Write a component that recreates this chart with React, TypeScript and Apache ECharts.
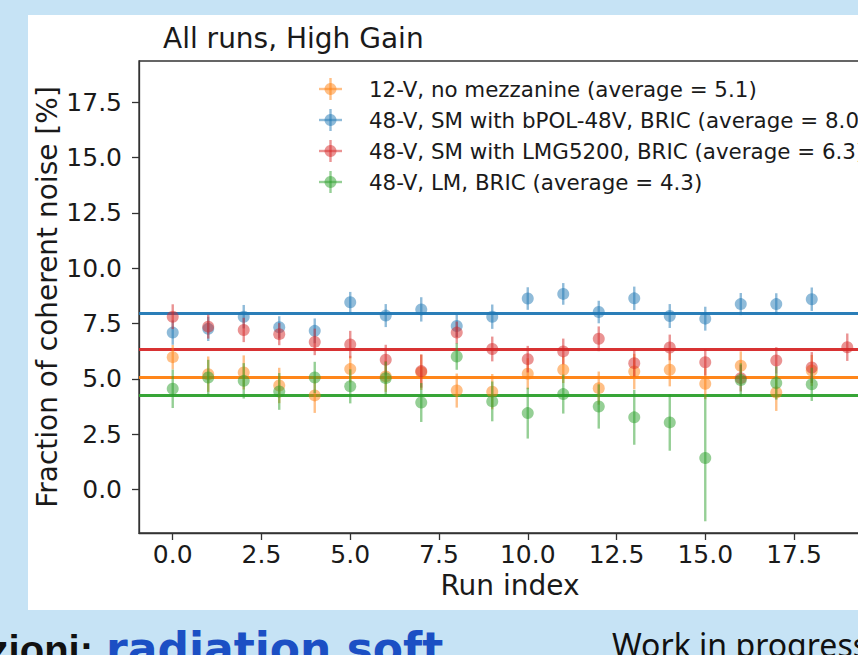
import React, { useEffect, useRef } from "react";
import * as echarts from "echarts";

// ---- data ----
const runIndex = [0, 1, 2, 3, 4, 5, 6, 7, 8, 9, 10, 11, 12, 13, 14, 15, 16, 17, 18];
const runIndexRed = [0, 1, 2, 3, 4, 5, 6, 7, 8, 9, 10, 11, 12, 13, 14, 15, 16, 17, 18, 19];

const orangeValues = [5.98, 5.21, 5.29, 4.70, 4.25, 5.44, 5.11, 5.30, 4.47, 4.42, 5.23, 5.41, 4.58, 5.33, 5.41, 4.78, 5.59, 4.38, 5.38];
const orangeErrors = [0.55, 0.8, 0.77, 0.8, 0.79, 0.6, 0.7, 0.8, 0.77, 0.8, 0.7, 0.6, 0.75, 0.8, 0.75, 0.7, 0.65, 0.83, 0.7];

const blueValues = [7.09, 7.26, 7.81, 7.33, 7.17, 8.46, 7.86, 8.14, 7.39, 7.81, 8.63, 8.84, 8.02, 8.64, 7.84, 7.72, 8.38, 8.38, 8.60];
const blueErrors = [0.55, 0.55, 0.53, 0.5, 0.56, 0.47, 0.52, 0.55, 0.5, 0.55, 0.51, 0.49, 0.51, 0.53, 0.54, 0.54, 0.5, 0.49, 0.53];

const redValues = [7.81, 7.36, 7.21, 7.02, 6.67, 6.55, 5.86, 5.35, 7.09, 6.35, 5.89, 6.24, 6.81, 5.71, 6.42, 5.75, 5.03, 5.83, 5.51, 6.43];
const redErrors = [0.56, 0.54, 0.55, 0.5, 0.6, 0.62, 0.68, 0.75, 0.5, 0.56, 0.6, 0.58, 0.56, 0.6, 0.58, 0.6, 0.6, 0.6, 0.7, 0.62];

const greenValues = [4.55, 5.06, 4.91, 4.43, 5.06, 4.66, 5.03, 3.93, 6.01, 3.98, 3.45, 4.31, 3.75, 3.26, 3.03, 1.42, 4.95, 4.81, 4.75];
const greenErrors = [0.87, 0.8, 0.8, 0.83, 0.71, 0.77, 0.75, 0.88, 0.6, 0.9, 1.15, 0.88, 1.0, 1.24, 1.28, 2.86, 0.75, 0.75, 0.75];

const seriesNames = [
  "12-V, no mezzanine (average = 5.1)",
  "48-V, SM with bPOL-48V, BRIC (average = 8.0)",
  "48-V, SM with LMG5200, BRIC (average = 6.3)",
  "48-V, LM, BRIC (average = 4.3)",
];
const averages = [5.07, 7.97, 6.34, 4.28];
const colors = ["#ff7f0e", "#1f77b4", "#d62728", "#2ca02c"];

const xTicks = [0, 2.5, 5, 7.5, 10, 12.5, 15, 17.5];
const yTicks = [0, 2.5, 5, 7.5, 10, 12.5, 15, 17.5];

const titleText = "All runs, High Gain";
const xLabel = "Run index";
const yLabel = "Fraction of coherent noise [%]";
const footerLeftA = "zioni:";
const footerLeftB = "radiation soft";
const footerRight = "Work in progress";

const BG = "#c6e3f5";
const FONT = "DejaVu Sans";

function buildSeries(name: string, xs: number[], ys: number[], es: number[], color: string, avg: number) {
  const data = xs.map((x, i) => [x, ys[i], es[i]]);
  return {
    type: "custom",
    name,
    data,
    clip: false,
    z: 3,
    renderItem: (params: any, api: any) => {
      const x = api.value(0);
      const y = api.value(1);
      const e = api.value(2);
      const p1 = api.coord([x, y - e]);
      const p2 = api.coord([x, y + e]);
      const c = api.coord([x, y]);
      return {
        type: "group",
        children: [
          {
            type: "line",
            shape: { x1: p1[0], y1: p1[1], x2: p2[0], y2: p2[1] },
            style: { stroke: color, lineWidth: 2.4, opacity: 0.5 },
          },
          {
            type: "circle",
            shape: { cx: c[0], cy: c[1], r: 6 },
            style: { fill: color, opacity: 0.5 },
          },
        ],
      };
    },
    markLine: {
      silent: true,
      symbol: "none",
      label: { show: false },
      z: 1,
      lineStyle: { color, width: 3.2, type: "solid", opacity: 0.95 },
      data: [{ yAxis: avg }],
    },
  };
}

export default function App() {
  const ref = useRef<HTMLDivElement>(null);
  useEffect(() => {
    if (!ref.current) return;
    const chart = echarts.init(ref.current, null, { renderer: "svg" });

    const legendGraphics: any[] = [];
    const legendY0 = 89;
    const legendStep = 31;
    seriesNames.forEach((name, i) => {
      const cy = legendY0 + i * legendStep;
      legendGraphics.push(
        {
          type: "line",
          shape: { x1: 319, y1: cy, x2: 342, y2: cy },
          style: { stroke: colors[i], lineWidth: 2.4, opacity: 0.5 },
          z: 100,
        },
        {
          type: "line",
          shape: { x1: 330.5, y1: cy - 11, x2: 330.5, y2: cy + 11 },
          style: { stroke: colors[i], lineWidth: 2.4, opacity: 0.5 },
          z: 100,
        },
        {
          type: "circle",
          shape: { cx: 330.5, cy, r: 6 },
          style: { fill: colors[i], opacity: 0.5 },
          z: 100,
        },
        {
          type: "text",
          x: 369,
          y: cy,
          style: {
            text: name,
            fill: "#1a1a1a",
            font: `21.4px "${FONT}"`,
            verticalAlign: "middle",
          },
          z: 100,
        }
      );
    });

    const option: any = {
      animation: false,
      backgroundColor: BG,
      textStyle: { fontFamily: FONT },
      grid: {
        left: 139,
        top: 61,
        width: 742,
        height: 472,
        show: true,
        backgroundColor: "#ffffff",
        borderColor: "#333333",
        borderWidth: 1.3,
      },
      xAxis: {
        type: "value",
        min: -0.95,
        max: 19.95,
        axisLine: { show: true, onZero: false, lineStyle: { color: "#333333", width: 1.3 } },
        axisTick: { show: true, length: 7, lineStyle: { color: "#333333", width: 1.3 }, customValues: xTicks },
        axisLabel: {
          customValues: xTicks,
          formatter: (v: number) => v.toFixed(1),
          fontSize: 25,
          color: "#1a1a1a",
          fontFamily: FONT,
          margin: 9,
        },
        splitLine: { show: false },
      },
      yAxis: {
        type: "value",
        min: -1.97,
        max: 19.37,
        axisLine: { show: true, onZero: false, lineStyle: { color: "#333333", width: 1.3 } },
        axisTick: { show: true, length: 7, lineStyle: { color: "#333333", width: 1.3 }, customValues: yTicks },
        axisLabel: {
          customValues: yTicks,
          formatter: (v: number) => v.toFixed(1),
          fontSize: 25,
          color: "#1a1a1a",
          fontFamily: FONT,
          margin: 17,
        },
        splitLine: { show: false },
      },
      graphic: [
        {
          type: "rect",
          shape: { x: 28, y: 15, width: 1000, height: 595 },
          style: { fill: "#ffffff" },
          z: -10,
          silent: true,
        },
        {
          type: "text",
          x: 163,
          y: 38,
          style: {
            text: titleText,
            fill: "#1a1a1a",
            font: `28px "${FONT}"`,
            verticalAlign: "middle",
          },
          z: 100,
        },
        {
          type: "text",
          x: 510,
          y: 585,
          style: {
            text: xLabel,
            fill: "#1a1a1a",
            font: `28px "${FONT}"`,
            align: "center",
            verticalAlign: "middle",
          },
          z: 100,
        },
        {
          type: "text",
          x: 47,
          y: 297,
          rotation: Math.PI / 2,
          style: {
            text: yLabel,
            fill: "#1a1a1a",
            font: `28px "${FONT}"`,
            align: "center",
            verticalAlign: "middle",
          },
          z: 100,
        },
        ...legendGraphics,
        {
          type: "text",
          x: 93,
          y: 670,
          style: {
            text: footerLeftA,
            fill: "#111111",
            font: `bold 40px "Liberation Sans"`,
            align: "right",
            verticalAlign: "bottom",
          },
          z: 100,
        },
        {
          type: "text",
          x: 106,
          y: 670,
          style: {
            text: footerLeftB,
            fill: "#1b4fc4",
            font: `bold 44px "${FONT}"`,
            verticalAlign: "bottom",
          },
          z: 100,
        },
        {
          type: "text",
          x: 612,
          y: 660,
          style: {
            text: footerRight,
            fill: "#111111",
            font: `32px "Noto Sans"`,
            verticalAlign: "bottom",
          },
          z: 100,
        },
      ],
      series: [
        buildSeries(seriesNames[0], runIndex, orangeValues, orangeErrors, colors[0], averages[0]),
        buildSeries(seriesNames[1], runIndex, blueValues, blueErrors, colors[1], averages[1]),
        buildSeries(seriesNames[2], runIndexRed, redValues, redErrors, colors[2], averages[2]),
        buildSeries(seriesNames[3], runIndex, greenValues, greenErrors, colors[3], averages[3]),
      ],
    };
    chart.setOption(option);
    return () => {
      chart.dispose();
    };
  }, []);

  return (
    <div
      style={{
        position: "fixed",
        left: 0,
        top: 0,
        width: 858,
        height: 655,
        overflow: "hidden",
        background: BG,
      }}
    >
      <div ref={ref} style={{ width: 960, height: 655 }} />
    </div>
  );
}
